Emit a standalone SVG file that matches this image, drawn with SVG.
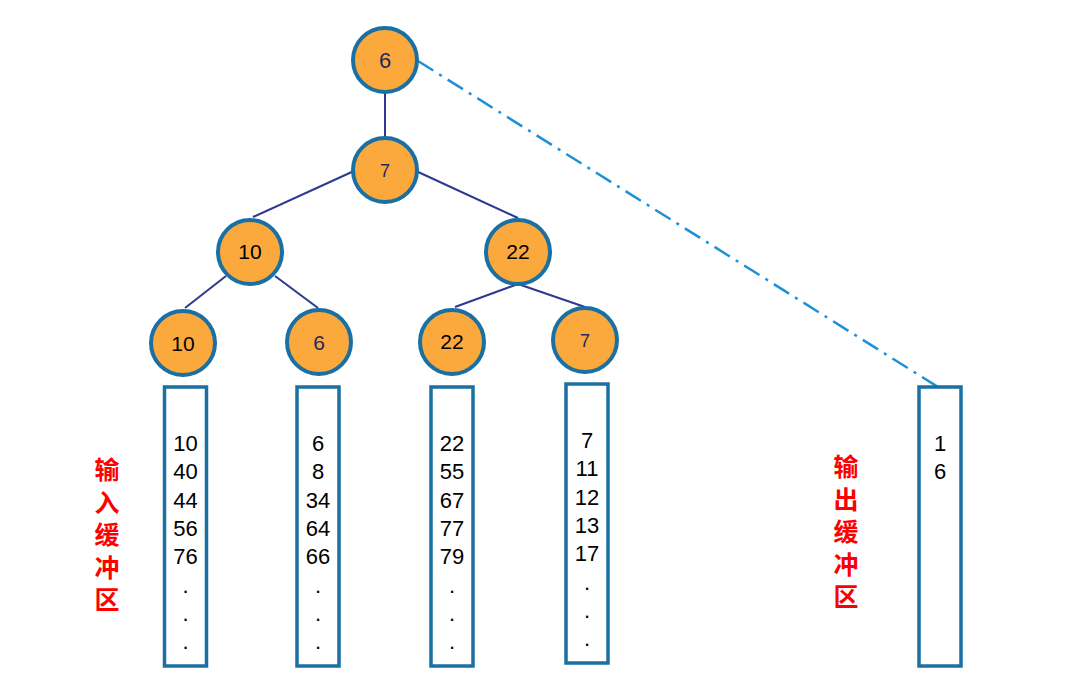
<svg xmlns="http://www.w3.org/2000/svg" width="1080" height="691" viewBox="0 0 1080 691">
<style>
.node{fill:#FBA93D;stroke:#1A6FA3;stroke-width:4}
.edge{stroke:#2B3990;stroke-width:2;fill:none}
.dash{stroke:#1E90D6;stroke-width:2.5;fill:none;stroke-dasharray:18 7 3 7}
.buf{fill:#fff;stroke:#1A6FA3;stroke-width:3.5}
.lbl{font-family:"Liberation Sans",Arial,sans-serif;text-anchor:middle}
.navy{fill:#1F2A5E}
.blk{fill:#000}
.num{font-family:"Liberation Sans",Arial,sans-serif;font-size:22px;text-anchor:middle;fill:#000}
.cn{font-family:"Noto Sans CJK SC",sans-serif;font-size:25px;font-weight:bold;fill:#FF0000;writing-mode:vertical-rl;letter-spacing:7.5px}
</style>
<g id="connectors">
<line class="edge" x1="385" y1="93" x2="385" y2="137"/>
<line class="edge" x1="354" y1="171" x2="253" y2="217"/>
<line class="edge" x1="416" y1="171" x2="518" y2="218"/>
<line class="edge" x1="226" y1="276" x2="185" y2="308"/>
<line class="edge" x1="275" y1="276" x2="318" y2="308"/>
<line class="edge" x1="518" y1="284" x2="455" y2="307"/>
<line class="edge" x1="518" y1="284" x2="585" y2="307"/>
<line class="dash" x1="418" y1="61" x2="938" y2="387"/>
</g>
<g id="n-root"><circle class="node" cx="385" cy="60" r="32"/><text class="lbl navy" x="385" y="68" font-size="22">6</text></g>
<g id="n-7"><circle class="node" cx="385" cy="170" r="32"/><text class="lbl navy" x="385" y="176.5" font-size="18">7</text></g>
<g id="n-10"><circle class="node" cx="250" cy="252" r="32"/><text class="lbl blk" x="250" y="259" font-size="21">10</text></g>
<g id="n-22"><circle class="node" cx="518" cy="252" r="32"/><text class="lbl blk" x="518" y="259" font-size="21">22</text></g>
<g id="leaf-10"><circle class="node" cx="183" cy="343" r="32"/><text class="lbl blk" x="183" y="351" font-size="21">10</text></g>
<g id="leaf-6"><circle class="node" cx="319" cy="342" r="32"/><text class="lbl navy" x="319" y="349.5" font-size="21">6</text></g>
<g id="leaf-22"><circle class="node" cx="452" cy="342" r="32"/><text class="lbl blk" x="452" y="349" font-size="21">22</text></g>
<g id="leaf-7"><circle class="node" cx="585" cy="340" r="32"/><text class="lbl navy" x="585" y="346.5" font-size="18">7</text></g>
<g id="buf1"><rect class="buf" x="164.5" y="387" width="42" height="279"/>
<text class="num"><tspan x="185.5" y="451">10</tspan><tspan x="185.5" y="479.3">40</tspan><tspan x="185.5" y="507.6">44</tspan><tspan x="185.5" y="535.9">56</tspan><tspan x="185.5" y="564.2">76</tspan><tspan x="185.5" y="592.5">.</tspan><tspan x="185.5" y="620.8">.</tspan><tspan x="185.5" y="649.1">.</tspan></text></g>
<g id="buf2"><rect class="buf" x="297" y="387" width="42" height="279"/>
<text class="num"><tspan x="318" y="451">6</tspan><tspan x="318" y="479.3">8</tspan><tspan x="318" y="507.6">34</tspan><tspan x="318" y="535.9">64</tspan><tspan x="318" y="564.2">66</tspan><tspan x="318" y="592.5">.</tspan><tspan x="318" y="620.8">.</tspan><tspan x="318" y="649.1">.</tspan></text></g>
<g id="buf3"><rect class="buf" x="431" y="387" width="42" height="279"/>
<text class="num"><tspan x="452" y="451">22</tspan><tspan x="452" y="479.3">55</tspan><tspan x="452" y="507.6">67</tspan><tspan x="452" y="535.9">77</tspan><tspan x="452" y="564.2">79</tspan><tspan x="452" y="592.5">.</tspan><tspan x="452" y="620.8">.</tspan><tspan x="452" y="649.1">.</tspan></text></g>
<g id="buf4"><rect class="buf" x="566" y="384" width="42" height="279"/>
<text class="num"><tspan x="587" y="448">7</tspan><tspan x="587" y="476.3">11</tspan><tspan x="587" y="504.6">12</tspan><tspan x="587" y="532.9">13</tspan><tspan x="587" y="561.2">17</tspan><tspan x="587" y="589.5">.</tspan><tspan x="587" y="617.8">.</tspan><tspan x="587" y="646.1">.</tspan></text></g>
<g id="out-buf"><rect class="buf" x="919" y="387" width="42" height="279"/>
<text class="num"><tspan x="940" y="451">1</tspan><tspan x="940" y="479.3">6</tspan></text></g>
<g id="label-in"><text class="cn" x="107" y="457">输入缓冲区</text></g>
<g id="label-out"><text class="cn" x="846" y="454">输出缓冲区</text></g>
</svg>
